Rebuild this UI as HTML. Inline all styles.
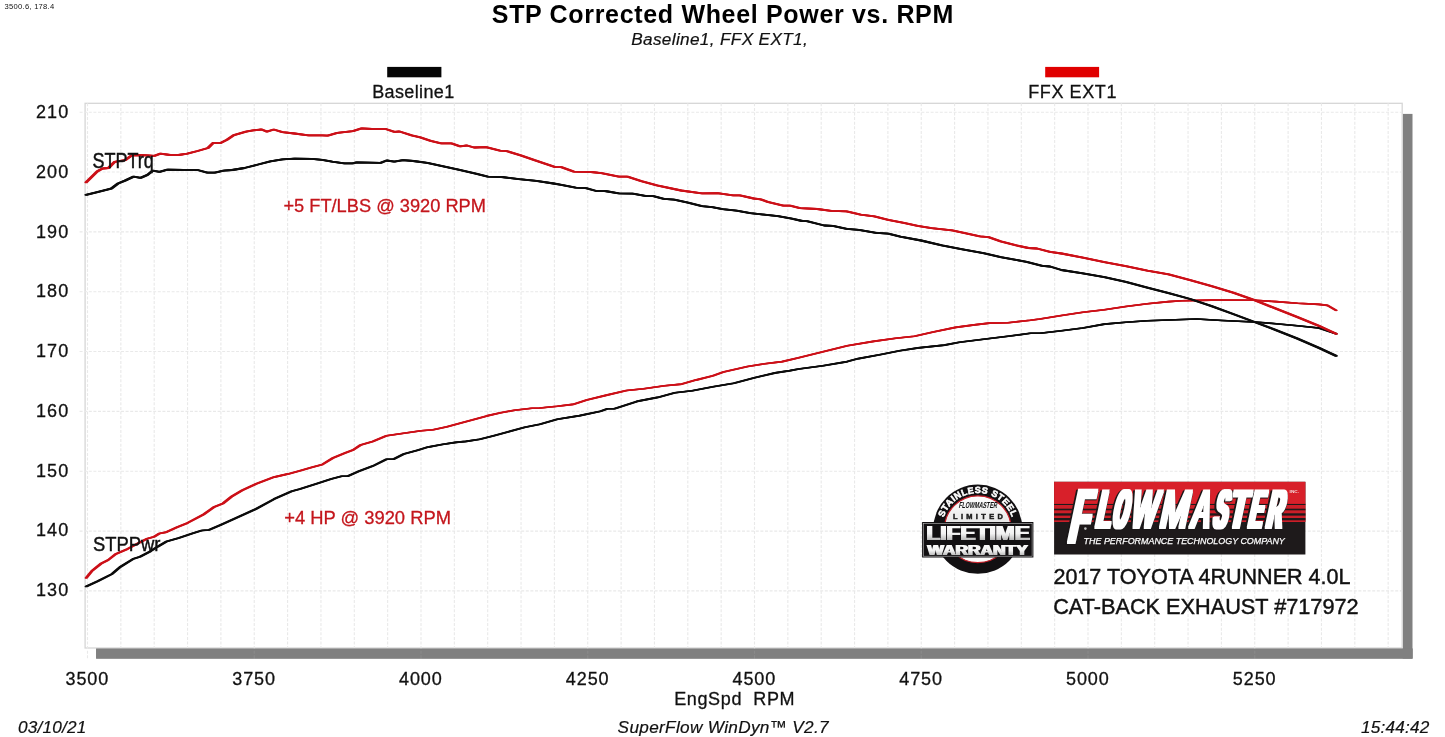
<!DOCTYPE html>
<html lang="en"><head><meta charset="utf-8"><title>STP Corrected Wheel Power vs. RPM</title>
<style>
html,body{margin:0;padding:0;background:#fff;}
body{width:1445px;height:737px;overflow:hidden;}
svg{display:block;}
text{font-family:"Liberation Sans",Arial,Helvetica,sans-serif;fill:#111;}
.ax{font-size:18px;stroke:#111;stroke-width:0.3px;}
.it{font-style:italic;font-size:17.2px;stroke:#111;stroke-width:0.2px;}
.my{fill:#111;stroke:#111;stroke-width:0.45px;}
.ann{fill:#c4161c;stroke:#c4161c;stroke-width:0.3px;}
</style></head><body>
<svg width="1445" height="737" viewBox="0 0 1445 737">
<defs>
<linearGradient id="lg" x1="0" y1="0" x2="0" y2="1"><stop offset="0" stop-color="#ffffff"/><stop offset="0.55" stop-color="#f2f2f2"/><stop offset="1" stop-color="#9a9a9a"/></linearGradient>
<linearGradient id="disc" x1="0" y1="0" x2="0" y2="1"><stop offset="0" stop-color="#ffffff"/><stop offset="0.5" stop-color="#e2e2e2"/><stop offset="1" stop-color="#ffffff"/></linearGradient>
<path id="arc" d="M 941.6,529.2 A 36.2,36.2 0 0 1 1014.0,529.2"/>
<filter id="heavy" x="-5%" y="-15%" width="110%" height="130%" color-interpolation-filters="sRGB">
<feMorphology in="SourceAlpha" operator="dilate" radius="2.0 0.5" result="d"/>
<feFlood flood-color="#ffffff" result="wf"/><feComposite in="wf" in2="d" operator="in" result="w"/>
<feMorphology in="SourceAlpha" operator="dilate" radius="2.9 1.0" result="d2"/>
<feOffset in="d2" dx="-1.1" dy="0.9" result="s"/>
<feFlood flood-color="#1a1617" result="bf"/><feComposite in="bf" in2="s" operator="in" result="sb"/>
<feMerge><feMergeNode in="sb"/><feMergeNode in="w"/></feMerge>
</filter>
<filter id="fat" x="-5%" y="-15%" width="110%" height="130%" color-interpolation-filters="sRGB">
<feMorphology in="SourceGraphic" operator="dilate" radius="0.9 0.35"/>
</filter>
<filter id="fat2" x="-5%" y="-15%" width="110%" height="130%" color-interpolation-filters="sRGB">
<feMorphology in="SourceGraphic" operator="dilate" radius="0.45 0.2"/>
</filter>
</defs>
<rect x="0" y="0" width="1445" height="737" fill="#ffffff"/>

<rect x="1402.7" y="113.9" width="9.8" height="544.7" fill="#808080"/>
<rect x="96.1" y="648.5" width="1316.4" height="10.1" fill="#808080"/>
<rect x="85.1" y="103.3" width="1317.1" height="544.7" fill="#ffffff" stroke="#d6d6d6" stroke-width="1.3"/>
<g stroke="#e9e9e9" stroke-width="1.1" stroke-dasharray="3 1.6" fill="none"><line x1="87.50" y1="103.3" x2="87.50" y2="660.0"/><line x1="120.85" y1="103.3" x2="120.85" y2="648.0"/><line x1="154.20" y1="103.3" x2="154.20" y2="648.0"/><line x1="187.55" y1="103.3" x2="187.55" y2="648.0"/><line x1="220.90" y1="103.3" x2="220.90" y2="648.0"/><line x1="254.25" y1="103.3" x2="254.25" y2="660.0"/><line x1="287.60" y1="103.3" x2="287.60" y2="648.0"/><line x1="320.95" y1="103.3" x2="320.95" y2="648.0"/><line x1="354.30" y1="103.3" x2="354.30" y2="648.0"/><line x1="387.65" y1="103.3" x2="387.65" y2="648.0"/><line x1="421.00" y1="103.3" x2="421.00" y2="660.0"/><line x1="454.35" y1="103.3" x2="454.35" y2="648.0"/><line x1="487.70" y1="103.3" x2="487.70" y2="648.0"/><line x1="521.05" y1="103.3" x2="521.05" y2="648.0"/><line x1="554.40" y1="103.3" x2="554.40" y2="648.0"/><line x1="587.75" y1="103.3" x2="587.75" y2="660.0"/><line x1="621.10" y1="103.3" x2="621.10" y2="648.0"/><line x1="654.45" y1="103.3" x2="654.45" y2="648.0"/><line x1="687.80" y1="103.3" x2="687.80" y2="648.0"/><line x1="721.15" y1="103.3" x2="721.15" y2="648.0"/><line x1="754.50" y1="103.3" x2="754.50" y2="660.0"/><line x1="787.85" y1="103.3" x2="787.85" y2="648.0"/><line x1="821.20" y1="103.3" x2="821.20" y2="648.0"/><line x1="854.55" y1="103.3" x2="854.55" y2="648.0"/><line x1="887.90" y1="103.3" x2="887.90" y2="648.0"/><line x1="921.25" y1="103.3" x2="921.25" y2="660.0"/><line x1="954.60" y1="103.3" x2="954.60" y2="648.0"/><line x1="987.95" y1="103.3" x2="987.95" y2="648.0"/><line x1="1021.30" y1="103.3" x2="1021.30" y2="648.0"/><line x1="1054.65" y1="103.3" x2="1054.65" y2="648.0"/><line x1="1088.00" y1="103.3" x2="1088.00" y2="660.0"/><line x1="1121.35" y1="103.3" x2="1121.35" y2="648.0"/><line x1="1154.70" y1="103.3" x2="1154.70" y2="648.0"/><line x1="1188.05" y1="103.3" x2="1188.05" y2="648.0"/><line x1="1221.40" y1="103.3" x2="1221.40" y2="648.0"/><line x1="1254.75" y1="103.3" x2="1254.75" y2="660.0"/><line x1="1288.10" y1="103.3" x2="1288.10" y2="648.0"/><line x1="1321.45" y1="103.3" x2="1321.45" y2="648.0"/><line x1="1354.80" y1="103.3" x2="1354.80" y2="648.0"/><line x1="1388.15" y1="103.3" x2="1388.15" y2="648.0"/><line x1="79.6" y1="112.20" x2="1402.2" y2="112.20"/><line x1="79.6" y1="172.04" x2="1402.2" y2="172.04"/><line x1="79.6" y1="231.88" x2="1402.2" y2="231.88"/><line x1="79.6" y1="291.72" x2="1402.2" y2="291.72"/><line x1="79.6" y1="351.56" x2="1402.2" y2="351.56"/><line x1="79.6" y1="411.40" x2="1402.2" y2="411.40"/><line x1="79.6" y1="471.24" x2="1402.2" y2="471.24"/><line x1="79.6" y1="531.08" x2="1402.2" y2="531.08"/><line x1="79.6" y1="590.92" x2="1402.2" y2="590.92"/></g>
<rect x="96.1" y="648.5" width="1316.4" height="10.1" fill="#808080" opacity="0.9"/>
<defs>
<path id="cbp" d="M86.2,586.4 L97.6,581.2 L111.8,574.1 L120.6,566.7 L132.9,559.1 L140.0,556.8 L150.6,551.2 L157.6,546.7 L166.5,541.5 L178.8,537.9 L192.9,533.2 L201.7,530.5 L208.8,530.0 L221.1,524.7 L238.8,516.8 L256.4,508.8 L274.1,499.1 L291.7,491.2 L300.0,489.0 L317.3,483.4 L331.1,479.1 L341.5,476.2 L347.6,476.2 L358.8,471.3 L372.7,466.1 L386.5,459.2 L393.4,459.2 L403.8,454.0 L417.6,450.2 L428.0,447.1 L441.9,444.5 L455.7,442.4 L466.1,441.4 L479.9,439.3 L493.8,435.8 L507.6,432.0 L524.9,427.2 L540.0,424.3 L557.3,419.2 L579.8,415.6 L600.6,411.3 L607.5,408.7 L614.4,408.7 L636.9,401.4 L657.6,397.4 L674.9,392.8 L692.2,390.7 L713.0,386.7 L733.8,383.3 L754.5,377.7 L775.3,372.9 L790.0,370.6 L798.7,369.0 L823.0,365.7 L847.3,361.6 L858.5,358.6 L880.9,354.5 L899.6,350.7 L918.3,347.9 L944.4,345.1 L959.4,342.3 L985.5,339.0 L1008.0,336.3 L1030.4,333.3 L1040.0,333.3 L1061.5,330.8 L1082.9,328.0 L1104.4,324.1 L1125.8,322.2 L1147.3,320.7 L1168.7,320.0 L1196.6,319.0 L1222.4,320.5 L1254.5,322.0 L1276.0,323.7 L1297.5,325.8 L1318.9,328.0 L1336.1,333.8"/>
<path id="crp" d="M86.2,578.0 L92.3,570.6 L101.2,563.5 L108.2,560.0 L115.3,554.3 L127.6,548.9 L138.2,543.2 L147.0,538.8 L154.1,536.7 L159.4,533.5 L166.5,532.1 L177.0,527.3 L187.6,522.9 L203.5,514.5 L214.1,507.0 L222.9,503.5 L231.7,496.5 L242.3,490.3 L256.4,483.8 L274.1,477.1 L288.2,473.9 L300.0,470.8 L312.1,467.3 L322.5,464.4 L332.9,458.0 L345.0,453.1 L353.6,449.7 L360.6,445.0 L372.7,441.6 L386.5,435.8 L403.8,433.3 L421.1,430.7 L433.2,429.8 L447.1,426.7 L460.9,422.9 L473.0,419.8 L486.9,415.9 L500.7,412.8 L514.5,410.2 L531.8,408.2 L540.0,408.0 L557.3,406.3 L572.9,404.4 L586.7,400.0 L605.7,395.4 L626.5,390.5 L643.8,388.8 L664.6,385.8 L681.9,384.1 L695.7,380.1 L713.0,375.8 L723.4,372.0 L747.6,366.5 L764.9,363.7 L782.2,361.6 L798.7,357.8 L823.0,351.7 L847.3,345.7 L873.4,341.4 L895.8,338.2 L914.5,336.3 L933.2,332.0 L955.6,327.4 L974.3,324.9 L989.3,323.1 L1008.0,322.7 L1030.4,320.3 L1040.0,319.0 L1061.5,315.5 L1082.9,312.3 L1104.4,309.7 L1125.8,306.5 L1147.3,303.7 L1168.7,301.6 L1181.6,300.7 L1211.6,300.1 L1254.5,300.3 L1276.0,301.6 L1297.5,303.3 L1318.9,304.4 L1327.5,305.4 L1336.1,310.4"/>
<path id="cbt" d="M86.1,194.8 L97.3,192.2 L111.1,188.7 L118.0,183.5 L125.0,180.6 L133.6,176.6 L140.6,177.8 L147.5,174.9 L152.7,170.6 L159.6,171.9 L167.4,169.7 L183.8,170.0 L197.6,170.0 L207.2,172.6 L215.0,172.6 L223.6,170.6 L232.2,170.0 L244.4,168.0 L258.2,164.5 L270.3,161.4 L282.4,159.3 L294.5,158.6 L311.8,158.8 L322.2,159.8 L332.1,161.6 L344.2,163.3 L352.9,163.3 L356.3,162.4 L380.6,162.8 L386.6,160.5 L394.4,161.6 L403.0,160.2 L413.4,161.0 L427.3,162.8 L441.1,165.9 L458.4,169.7 L475.7,173.7 L487.8,176.6 L501.7,177.0 L519.0,179.2 L536.3,180.9 L553.6,183.5 L560.0,184.6 L575.6,187.6 L586.0,188.1 L596.3,191.0 L605.0,191.0 L618.8,193.3 L632.7,193.6 L646.5,196.2 L653.4,196.2 L663.8,198.8 L674.2,199.7 L688.0,202.6 L701.9,206.1 L712.2,207.1 L722.6,209.2 L736.5,210.6 L750.3,213.2 L764.2,214.7 L778.0,216.1 L791.8,218.7 L802.2,221.0 L806.9,221.1 L824.2,225.5 L832.9,225.8 L846.7,228.9 L858.8,229.8 L876.1,232.9 L888.2,233.6 L900.3,236.7 L921.1,240.5 L941.9,245.4 L962.6,249.3 L983.4,253.1 L1000.7,257.1 L1014.5,259.6 L1026.6,261.8 L1042.2,265.8 L1050.0,266.5 L1061.5,270.0 L1082.9,273.3 L1104.4,277.1 L1125.8,281.8 L1147.3,287.6 L1168.7,293.2 L1190.2,299.0 L1211.6,306.1 L1233.1,314.0 L1254.5,322.0 L1276.0,330.1 L1297.5,338.7 L1318.9,347.9 L1336.1,355.9"/>
<path id="crt" d="M86.1,182.3 L97.3,171.4 L102.5,168.5 L108.5,168.0 L114.6,161.9 L125.0,160.2 L131.9,155.3 L140.6,155.0 L154.4,155.8 L160.4,153.6 L170.0,155.0 L178.6,155.0 L187.3,153.6 L197.6,151.0 L208.0,148.0 L213.2,142.9 L220.1,143.2 L227.0,139.8 L234.0,135.1 L246.0,131.6 L253.0,130.4 L261.7,129.5 L266.9,131.6 L273.8,129.5 L282.4,132.1 L294.5,133.5 L308.4,135.4 L322.2,135.4 L327.8,135.6 L337.3,132.8 L352.9,131.1 L361.5,128.3 L371.9,129.0 L385.7,129.0 L394.4,131.8 L399.6,131.5 L411.7,135.3 L420.3,137.3 L430.7,140.8 L441.1,143.4 L451.5,143.4 L460.1,146.3 L467.0,145.5 L474.0,147.5 L486.1,147.2 L499.9,150.7 L506.9,151.2 L520.7,155.3 L534.5,160.2 L544.9,163.6 L555.3,167.1 L561.3,167.1 L573.8,171.7 L591.1,172.0 L601.5,173.2 L618.8,176.7 L627.5,176.7 L641.3,181.2 L656.9,185.3 L681.1,190.5 L701.9,193.3 L717.4,193.1 L733.0,195.4 L739.9,195.4 L753.8,198.5 L760.7,199.3 L767.6,201.9 L783.2,205.7 L790.1,205.7 L800.0,208.2 L817.3,209.0 L831.1,210.8 L846.7,211.3 L860.6,214.6 L874.4,216.3 L888.2,219.9 L903.8,222.9 L917.6,225.8 L931.5,228.1 L952.2,230.3 L966.1,233.3 L979.9,236.4 L988.6,237.1 L1000.7,241.4 L1016.3,245.4 L1028.4,248.0 L1037.0,248.5 L1050.0,251.9 L1061.5,253.5 L1082.9,257.6 L1104.4,262.1 L1125.8,266.2 L1147.3,270.7 L1168.7,274.3 L1190.2,280.1 L1211.6,286.1 L1233.1,292.6 L1254.5,300.1 L1276.0,308.7 L1297.5,317.2 L1318.9,325.8 L1336.1,333.8"/>
</defs>
<g fill="none" stroke-linejoin="round" stroke-linecap="round">
<g stroke="#0c0c0c" stroke-width="1.6"><use href="#cbp" x="-0.8"/><use href="#cbp"/><use href="#cbp" x="0.8"/></g>
<g stroke="#cc1018" stroke-width="1.6"><use href="#crp" x="-0.8"/><use href="#crp"/><use href="#crp" x="0.8"/></g>
<g stroke="#0c0c0c" stroke-width="1.8"><use href="#cbt" x="-0.8"/><use href="#cbt"/><use href="#cbt" x="0.8"/></g>
<g stroke="#cc1018" stroke-width="1.8"><use href="#crt" x="-0.8"/><use href="#crt"/><use href="#crt" x="0.8"/></g>
</g>
<rect x="387.2" y="66.9" width="54.2" height="10.4" fill="#050505"/>
<rect x="1045.2" y="66.9" width="53.9" height="10.4" fill="#e00000"/>
<text x="372.2" y="97.6" class="ax" textLength="82.0" lengthAdjust="spacing"  xml:space="preserve">Baseline1</text>
<text x="1028.2" y="97.6" class="ax" textLength="88.2" lengthAdjust="spacing"  xml:space="preserve">FFX EXT1</text>
<text x="491.8" y="22.8" font-size="25.0" textLength="461.5" lengthAdjust="spacing" font-weight="bold" style="fill:#000" xml:space="preserve">STP Corrected Wheel Power vs. RPM</text>
<text x="631.2" y="45.3" class="it" textLength="176.5" lengthAdjust="spacing"  xml:space="preserve">Baseline1, FFX EXT1,</text>
<text x="4.6" y="9.4" font-size="7.6" textLength="49.6" lengthAdjust="spacing" fill="#333" xml:space="preserve">3500.6, 178.4</text>
<text x="36.0" y="118.0" class="ax" textLength="32.2" lengthAdjust="spacing"  xml:space="preserve">210</text>
<text x="36.0" y="177.8" class="ax" textLength="32.2" lengthAdjust="spacing"  xml:space="preserve">200</text>
<text x="36.0" y="237.5" class="ax" textLength="32.2" lengthAdjust="spacing"  xml:space="preserve">190</text>
<text x="36.0" y="297.2" class="ax" textLength="32.2" lengthAdjust="spacing"  xml:space="preserve">180</text>
<text x="36.0" y="357.0" class="ax" textLength="32.2" lengthAdjust="spacing"  xml:space="preserve">170</text>
<text x="36.0" y="416.8" class="ax" textLength="32.2" lengthAdjust="spacing"  xml:space="preserve">160</text>
<text x="36.0" y="476.5" class="ax" textLength="32.2" lengthAdjust="spacing"  xml:space="preserve">150</text>
<text x="36.0" y="536.2" class="ax" textLength="32.2" lengthAdjust="spacing"  xml:space="preserve">140</text>
<text x="36.0" y="596.0" class="ax" textLength="32.2" lengthAdjust="spacing"  xml:space="preserve">130</text>
<text x="65.5" y="684.8" class="ax" textLength="42.8" lengthAdjust="spacing"  xml:space="preserve">3500</text>
<text x="232.2" y="684.8" class="ax" textLength="42.8" lengthAdjust="spacing"  xml:space="preserve">3750</text>
<text x="399.0" y="684.8" class="ax" textLength="42.8" lengthAdjust="spacing"  xml:space="preserve">4000</text>
<text x="565.8" y="684.8" class="ax" textLength="42.8" lengthAdjust="spacing"  xml:space="preserve">4250</text>
<text x="732.5" y="684.8" class="ax" textLength="42.8" lengthAdjust="spacing"  xml:space="preserve">4500</text>
<text x="899.2" y="684.8" class="ax" textLength="42.8" lengthAdjust="spacing"  xml:space="preserve">4750</text>
<text x="1066.0" y="684.8" class="ax" textLength="42.8" lengthAdjust="spacing"  xml:space="preserve">5000</text>
<text x="1232.8" y="684.8" class="ax" textLength="42.8" lengthAdjust="spacing"  xml:space="preserve">5250</text>
<text x="674.2" y="705.3" class="ax" textLength="120.4" lengthAdjust="spacing"  xml:space="preserve">EngSpd  RPM</text>
<text x="18.0" y="732.7" class="it" textLength="68.4" lengthAdjust="spacing"  xml:space="preserve">03/10/21</text>
<text x="617.6" y="732.7" class="it" textLength="211.0" lengthAdjust="spacing"  xml:space="preserve">SuperFlow WinDyn™ V2.7</text>
<text x="1361.0" y="732.7" class="it" textLength="68.2" lengthAdjust="spacing"  xml:space="preserve">15:44:42</text>
<text x="92.4" y="168.4" class="my" font-size="21.4" textLength="61.4" lengthAdjust="spacingAndGlyphs"  xml:space="preserve">STPTrq</text>
<text x="93.0" y="550.5" class="my" font-size="21.0" textLength="67.4" lengthAdjust="spacingAndGlyphs"  xml:space="preserve">STPPwr</text>
<text x="283.4" y="212.2" class="ann" font-size="19.0" textLength="202.6" lengthAdjust="spacingAndGlyphs"  xml:space="preserve">+5 FT/LBS @ 3920 RPM</text>
<text x="284.2" y="523.7" class="ann" font-size="19.0" textLength="166.8" lengthAdjust="spacingAndGlyphs"  xml:space="preserve">+4 HP @ 3920 RPM</text>
<text x="1053.4" y="583.6" class="my" font-size="22.2" textLength="297.2" lengthAdjust="spacingAndGlyphs"  xml:space="preserve">2017 TOYOTA 4RUNNER 4.0L</text>
<text x="1053.2" y="613.7" class="my" font-size="22.2" textLength="305.4" lengthAdjust="spacingAndGlyphs"  xml:space="preserve">CAT-BACK EXHAUST #717972</text>
<g>
<rect x="1054.1" y="481.8" width="251.3" height="72.7" fill="#1e1a1b"/>
<rect x="1054.1" y="481.8" width="251.3" height="40.2" fill="#d8202a"/>
<rect x="1054.1" y="503" width="251.3" height="19" fill="#b81c25" opacity="0.35"/>
<rect x="1054.1" y="504.0" width="251.3" height="1.0" fill="#1e1a1b"/>
<rect x="1054.1" y="508.7" width="251.3" height="1.6" fill="#1e1a1b"/>
<rect x="1054.1" y="513.3" width="251.3" height="2.3" fill="#1e1a1b"/>
<rect x="1054.1" y="518.0" width="251.3" height="2.3" fill="#1e1a1b"/>
<g filter="url(#heavy)" font-weight="bold">
<text transform="translate(1066.86,543.4) skewX(-12) scale(0.4120,1)" x="0" y="0" font-size="77.5" style="fill:#fff">F</text>
<text transform="translate(0,527.6) skewX(-12)" y="0" font-size="54.5" style="fill:#fff"><tspan x="1094.72" font-weight="bold" textLength="14.40" lengthAdjust="spacingAndGlyphs">L</tspan><tspan x="1111.13" font-weight="bold" textLength="14.67" lengthAdjust="spacingAndGlyphs">O</tspan><tspan x="1129.08" font-weight="normal" textLength="25.31" lengthAdjust="spacingAndGlyphs">W</tspan><tspan x="1158.28" font-weight="normal" textLength="27.64" lengthAdjust="spacingAndGlyphs">M</tspan><tspan x="1190.05" font-weight="normal" textLength="17.40" lengthAdjust="spacingAndGlyphs">A</tspan><tspan x="1211.92" font-weight="bold" textLength="13.36" lengthAdjust="spacingAndGlyphs">S</tspan><tspan x="1227.49" font-weight="bold" textLength="16.60" lengthAdjust="spacingAndGlyphs">T</tspan><tspan x="1247.40" font-weight="bold" textLength="12.96" lengthAdjust="spacingAndGlyphs">E</tspan><tspan x="1265.27" font-weight="bold" textLength="15.47" lengthAdjust="spacingAndGlyphs">R</tspan></text>
</g>
<text x="1083.6" y="544.4" font-size="9.4" font-style="italic" textLength="201.2" lengthAdjust="spacingAndGlyphs" stroke="#fff" stroke-width="0.25" style="fill:#fff">THE PERFORMANCE TECHNOLOGY COMPANY</text>
<text x="1289.6" y="492.8" font-size="3.8" font-weight="bold" textLength="9.4" lengthAdjust="spacingAndGlyphs" style="fill:#f4dcdc">INC.</text>
<circle cx="1085.4" cy="528.6" r="1.3" fill="#bdbdbd"/>
</g>
<g>
<circle cx="977.8" cy="529.2" r="44.6" fill="#121012"/>
<circle cx="977.8" cy="529.2" r="33.4" fill="url(#disc)" stroke="#c8202a" stroke-width="1.2"/>
<text font-size="9.0" font-weight="bold" letter-spacing="0.55" stroke="#fff" stroke-width="0.55" style="fill:#fff"><textPath href="#arc" startOffset="50%" text-anchor="middle">STAINLESS STEEL</textPath></text>
<g filter="url(#fat2)"><text transform="translate(958.6,507.8) skewX(-12) scale(0.62,1)" font-size="8.6" font-weight="bold" style="fill:#111">FLOWMASTER</text></g>
<text x="953.0" y="519.4" font-size="7.4" font-weight="bold" textLength="49.8" lengthAdjust="spacing" stroke="#1c1c1c" stroke-width="0.5" style="fill:#1c1c1c">LIMITED</text>
<rect x="922.1" y="522.0" width="111.3" height="35.5" fill="#121012"/>
<rect x="923.4" y="523.3" width="108.7" height="32.9" fill="none" stroke="#bdbdbd" stroke-width="0.6"/>
<g filter="url(#fat)"><text x="926.4" y="539.5" font-size="19.6" font-weight="bold" textLength="103.4" lengthAdjust="spacingAndGlyphs" style="fill:url(#lg)">LIFETIME</text></g>
<g filter="url(#fat)"><text x="927.6" y="555.2" font-size="15.2" font-weight="bold" textLength="100.2" lengthAdjust="spacingAndGlyphs" style="fill:url(#lg)">WARRANTY</text></g>
</g>
</svg></body></html>
